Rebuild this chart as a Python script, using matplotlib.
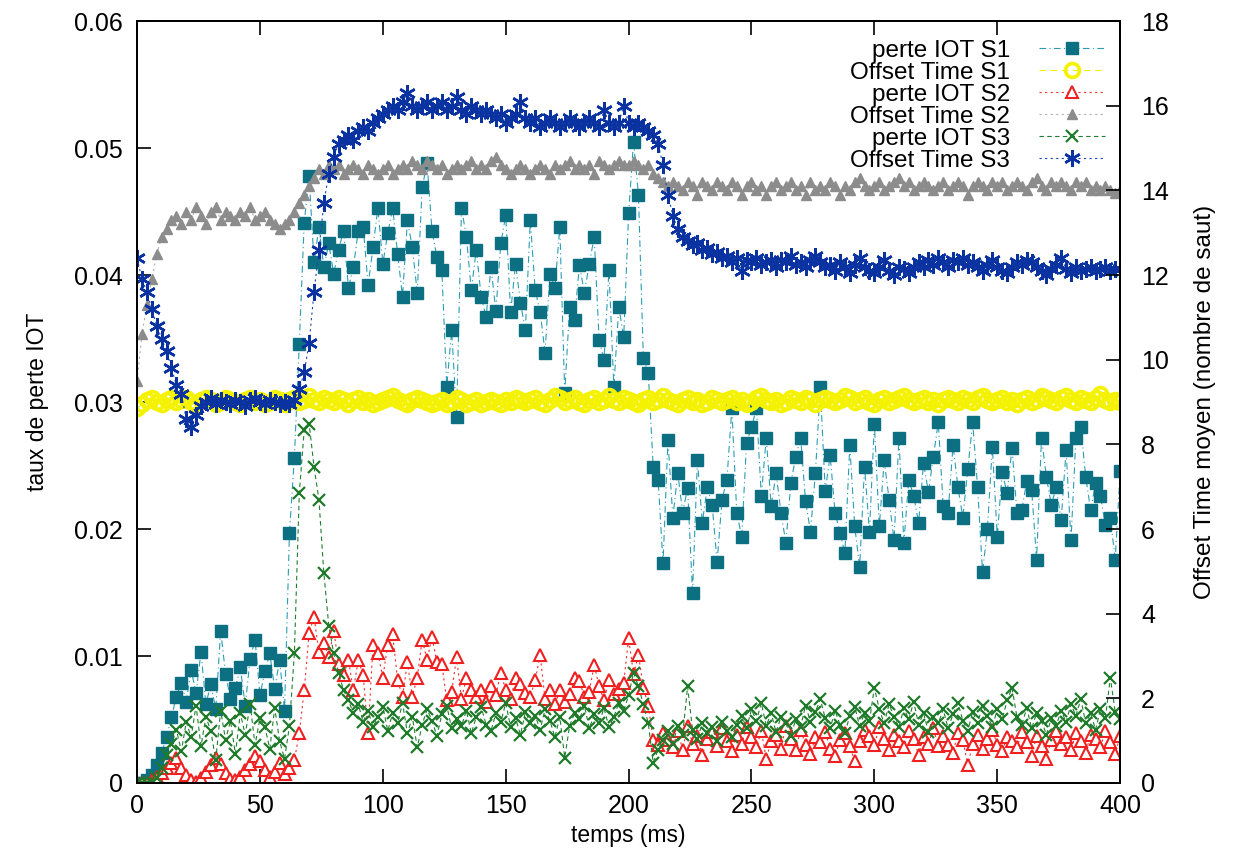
import numpy as np
import matplotlib
matplotlib.use("Agg")
import matplotlib.pyplot as plt
from matplotlib import font_manager

# ============================================================
# data (lus sur la figure, pas de 2 ms)
# ============================================================
temps = np.arange(0, 401, 2)

perte_s1 = [
    0, 0, 0.0002, 0.0006, 0.0014, 0.0024, 0.0036, 0.0052, 0.0068, 0.0079,
    0.0064, 0.0089, 0.0071, 0.0103, 0.0062, 0.0078, 0.0058, 0.0120, 0.0086, 0.0066,
    0.0075, 0.0091, 0.0061, 0.0098, 0.0113, 0.0069, 0.0088, 0.0102, 0.0074, 0.0097,
    0.0057, 0.0197, 0.0256, 0.0346, 0.0441, 0.0478, 0.0410, 0.0438, 0.0406, 0.0425,
    0.0401, 0.0420, 0.0435, 0.0390, 0.0406, 0.0435, 0.0438, 0.0392, 0.0422, 0.0453,
    0.0409, 0.0433, 0.0453, 0.0417, 0.0383, 0.0443, 0.0422, 0.0386, 0.0469, 0.0488,
    0.0435, 0.0414, 0.0404, 0.0312, 0.0357, 0.0288, 0.0453, 0.0430, 0.0388, 0.0420,
    0.0383, 0.0367, 0.0406, 0.0372, 0.0425, 0.0447, 0.0371, 0.0409, 0.0378, 0.0357,
    0.0443, 0.0388, 0.0371, 0.0339, 0.0401, 0.0390, 0.0438, 0.0307, 0.0375, 0.0365,
    0.0408, 0.0386, 0.0409, 0.0430, 0.0349, 0.0333, 0.0404, 0.0312, 0.0375, 0.0351,
    0.0449, 0.0505, 0.0463, 0.0335, 0.0323, 0.0249, 0.0239, 0.0173, 0.0270, 0.0209,
    0.0244, 0.0213, 0.0232, 0.0150, 0.0254, 0.0205, 0.0233, 0.0219, 0.0174, 0.0223,
    0.0239, 0.0295, 0.0213, 0.0194, 0.0268, 0.0280, 0.0295, 0.0226, 0.0272, 0.0218,
    0.0244, 0.0213, 0.0189, 0.0236, 0.0257, 0.0272, 0.0222, 0.0198, 0.0244, 0.0312,
    0.0230, 0.0258, 0.0213, 0.0197, 0.0181, 0.0266, 0.0202, 0.0170, 0.0249, 0.0198,
    0.0283, 0.0202, 0.0254, 0.0223, 0.0191, 0.0272, 0.0189, 0.0239, 0.0226, 0.0205,
    0.0252, 0.0229, 0.0257, 0.0284, 0.0218, 0.0213, 0.0266, 0.0233, 0.0209, 0.0247,
    0.0284, 0.0233, 0.0166, 0.0200, 0.0265, 0.0194, 0.0245, 0.0228, 0.0264, 0.0213,
    0.0215, 0.0238, 0.0231, 0.0176, 0.0272, 0.0241, 0.0219, 0.0233, 0.0207, 0.0262,
    0.0191, 0.0272, 0.0280, 0.0241, 0.0215, 0.0236, 0.0226, 0.0203, 0.0209, 0.0176,
    0.0246,
]

offset_s1 = [
    8.85, 8.95, 9.05, 9.10, 9.00, 8.95, 9.05, 9.10, 9.00, 9.05,
    9.10, 9.00, 8.95, 9.05, 9.10, 9.05, 8.95, 9.00, 9.10, 9.05,
    9.00, 8.95, 9.05, 9.10, 9.00, 9.05, 8.95, 9.00, 9.10, 9.05,
    8.95, 9.05, 9.10, 9.00, 9.05, 9.15, 9.05, 9.00, 9.10, 9.05,
    9.00, 9.10, 9.05, 8.95, 9.05, 9.10, 9.00, 9.05, 8.95, 9.00,
    9.05, 9.10, 9.15, 9.05, 9.00, 8.95, 9.05, 9.10, 9.05, 9.00,
    8.95, 9.00, 9.05, 8.95, 9.00, 9.10, 9.05, 8.95, 9.00, 9.05,
    8.95, 9.00, 9.05, 9.00, 8.95, 9.05, 9.00, 9.10, 9.05, 9.00,
    9.05, 9.10, 9.00, 8.95, 9.05, 9.15, 9.10, 9.00, 9.05, 9.10,
    9.00, 8.95, 9.05, 9.10, 9.00, 9.05, 9.15, 9.05, 9.00, 9.10,
    9.05, 9.00, 8.95, 9.05, 9.10, 9.00, 9.05, 9.15, 9.05, 9.00,
    8.95, 9.05, 9.10, 9.00, 9.05, 8.95, 9.00, 9.10, 9.05, 9.00,
    9.05, 9.10, 9.00, 9.05, 8.95, 9.00, 9.10, 9.15, 9.05, 9.00,
    9.05, 8.95, 9.00, 9.10, 9.05, 9.00, 9.10, 9.05, 8.95, 9.05,
    9.10, 9.05, 9.00, 9.05, 9.15, 9.10, 9.00, 9.05, 9.10, 9.00,
    8.95, 9.05, 9.10, 9.00, 9.05, 9.10, 9.15, 9.05, 9.00, 9.05,
    9.10, 9.00, 9.05, 8.95, 9.05, 9.10, 9.05, 9.00, 9.10, 9.05,
    9.00, 9.10, 9.15, 9.05, 9.00, 9.05, 9.10, 9.00, 9.05, 8.95,
    9.05, 9.10, 9.00, 9.05, 9.15, 9.10, 9.05, 9.00, 9.10, 9.15,
    9.05, 9.00, 9.10, 9.05, 9.00, 9.10, 9.20, 9.05, 9.00, 9.05,
    9.00,
]

perte_s2 = [
    0, 0, 0, 0.0002, 0.0005, 0.0008, 0.0012, 0.0016, 0.0020, 0.0012,
    0.0006, 0.0002, 0.0001, 0.0004, 0.0009, 0.0014, 0.0020, 0.0015, 0.0008, 0.0003,
    0.0002, 0.0005, 0.0010, 0.0015, 0.0021, 0.0017, 0.0010, 0.0005, 0.0009, 0.0016,
    0.0007, 0.0012, 0.0018, 0.0039, 0.0073, 0.0118, 0.0131, 0.0103, 0.0110, 0.0099,
    0.0120, 0.0094, 0.0085, 0.0097, 0.0073, 0.0097, 0.0085, 0.0039, 0.0109, 0.0102,
    0.0083, 0.0109, 0.0117, 0.0081, 0.0068, 0.0095, 0.0068, 0.0083, 0.0113, 0.0097,
    0.0115, 0.0095, 0.0094, 0.0065, 0.0072, 0.0099, 0.0066, 0.0083, 0.0073, 0.0068,
    0.0073, 0.0064, 0.0076, 0.0069, 0.0087, 0.0073, 0.0066, 0.0083, 0.0078, 0.0071,
    0.0068, 0.0081, 0.0101, 0.0066, 0.0073, 0.0062, 0.0073, 0.0064, 0.0070, 0.0083,
    0.0080, 0.0068, 0.0072, 0.0093, 0.0076, 0.0065, 0.0081, 0.0070, 0.0074, 0.0079,
    0.0114, 0.0086, 0.0101, 0.0075, 0.0061, 0.0034, 0.0030, 0.0039, 0.0034, 0.0028,
    0.0041, 0.0026, 0.0045, 0.0031, 0.0037, 0.0022, 0.0035, 0.0040, 0.0029, 0.0043,
    0.0033, 0.0025, 0.0038, 0.0031, 0.0044, 0.0036, 0.0028, 0.0041, 0.0019, 0.0033,
    0.0038, 0.0027, 0.0045, 0.0035, 0.0026, 0.0042, 0.0030, 0.0023, 0.0036, 0.0032,
    0.0040, 0.0027, 0.0021, 0.0034, 0.0039, 0.0029, 0.0017, 0.0033, 0.0042, 0.0037,
    0.0030, 0.0044, 0.0035, 0.0026, 0.0038, 0.0033, 0.0028, 0.0041, 0.0035, 0.0022,
    0.0036, 0.0031, 0.0043, 0.0029, 0.0037, 0.0030, 0.0024, 0.0039, 0.0034, 0.0014,
    0.0031, 0.0038, 0.0027, 0.0035, 0.0042, 0.0030, 0.0025, 0.0036, 0.0033, 0.0028,
    0.0040, 0.0032, 0.0021, 0.0037, 0.0029, 0.0019, 0.0034, 0.0041, 0.0031, 0.0036,
    0.0026, 0.0039, 0.0033, 0.0024, 0.0038, 0.0035, 0.0028, 0.0041, 0.0032, 0.0023,
    0.0037,
]

offset_s2 = [
    9.5, 10.6, 11.3, 11.9, 12.5, 12.9, 13.1, 13.3, 13.4, 13.2,
    13.5, 13.3, 13.6, 13.4, 13.2, 13.5, 13.6, 13.3, 13.5, 13.4,
    13.3, 13.5, 13.4, 13.6, 13.3, 13.4, 13.5, 13.3, 13.2, 13.1,
    13.2, 13.3, 13.5, 13.7, 13.9, 14.1, 14.3, 14.5, 14.4, 14.6,
    14.5, 14.6, 14.4, 14.5, 14.6, 14.5, 14.4, 14.6, 14.5, 14.4,
    14.5, 14.6, 14.4, 14.5, 14.6, 14.5, 14.7, 14.6, 14.5, 14.7,
    14.6, 14.5, 14.6, 14.4, 14.5, 14.6, 14.5, 14.6, 14.7, 14.5,
    14.6, 14.5, 14.7, 14.8, 14.6, 14.5, 14.4, 14.5, 14.6, 14.5,
    14.4, 14.5, 14.6, 14.5, 14.4, 14.6, 14.5, 14.6, 14.7, 14.5,
    14.6, 14.5, 14.6, 14.4, 14.7, 14.6, 14.5, 14.6, 14.7, 14.6,
    14.6, 14.7, 14.6, 14.5, 14.6, 14.4, 14.3, 14.2, 14.1, 14.2,
    14.1, 14.0, 14.2, 14.1, 13.9, 14.2, 14.1, 14.0, 14.2, 14.1,
    14.0, 14.2, 14.1, 13.9, 14.1, 14.2, 14.0, 14.1, 13.9, 14.1,
    14.2, 14.0, 14.1, 14.2, 14.0, 14.1, 13.9, 14.2, 14.0, 14.1,
    14.0, 14.2, 14.1, 13.9, 14.1, 14.0, 14.2, 14.3, 14.1, 14.0,
    14.1, 14.2, 14.0, 14.1, 14.2, 14.3, 14.1, 14.2, 14.0, 14.1,
    14.2, 14.1, 14.0, 14.1, 14.2, 14.0, 14.1, 14.2, 14.1, 13.9,
    14.1, 14.2, 14.1, 14.0, 14.2, 14.1, 14.2, 14.0, 14.1, 14.2,
    14.1, 14.0, 14.2, 14.3, 14.1, 14.0, 14.2, 14.1, 14.2, 14.1,
    14.0, 14.2, 14.1, 14.2, 14.0, 14.1, 14.0, 14.1, 14.0, 13.95,
    14.0,
]

perte_s3 = [
    0, 0, 0, 0.0001, 0.0004, 0.0012, 0.0022, 0.0031, 0.0042, 0.0025,
    0.0048, 0.0036, 0.0061, 0.0029, 0.0052, 0.0041, 0.0018, 0.0057, 0.0034, 0.0049,
    0.0023, 0.0055, 0.0038, 0.0062, 0.0030, 0.0051, 0.0044, 0.0027, 0.0059, 0.0033,
    0.0019, 0.0045, 0.0102, 0.0228, 0.0278, 0.0283, 0.0249, 0.0223, 0.0165, 0.0124,
    0.0102, 0.0087, 0.0073, 0.0065, 0.0055, 0.0062, 0.0048, 0.0057, 0.0044, 0.0052,
    0.0060, 0.0041, 0.0055, 0.0047, 0.0063, 0.0039, 0.0052, 0.0028, 0.0046, 0.0058,
    0.0049, 0.0037, 0.0054, 0.0061, 0.0043, 0.0050, 0.0045, 0.0057, 0.0039, 0.0052,
    0.0060, 0.0046, 0.0041, 0.0055, 0.0048, 0.0063, 0.0044, 0.0051, 0.0038, 0.0056,
    0.0047, 0.0053, 0.0042, 0.0058, 0.0049, 0.0036, 0.0052, 0.0020, 0.0045, 0.0055,
    0.0050, 0.0061, 0.0043, 0.0054, 0.0047, 0.0059, 0.0044, 0.0052, 0.0063, 0.0057,
    0.0069, 0.0087, 0.0076, 0.0062, 0.0047, 0.0016, 0.0026, 0.0034, 0.0041, 0.0031,
    0.0045, 0.0038, 0.0076, 0.0042, 0.0035, 0.0047, 0.0039, 0.0044, 0.0033, 0.0048,
    0.0041, 0.0036, 0.0046, 0.0053, 0.0043, 0.0058, 0.0049, 0.0063, 0.0045, 0.0055,
    0.0040, 0.0052, 0.0047, 0.0037, 0.0050, 0.0044, 0.0061, 0.0048, 0.0056, 0.0066,
    0.0051, 0.0043, 0.0057, 0.0046, 0.0039, 0.0053, 0.0060, 0.0045, 0.0055, 0.0049,
    0.0075, 0.0058, 0.0047, 0.0062, 0.0052, 0.0044, 0.0059, 0.0050, 0.0064, 0.0046,
    0.0055, 0.0040, 0.0052, 0.0047, 0.0058, 0.0043, 0.0054, 0.0063, 0.0049, 0.0041,
    0.0056, 0.0047, 0.0061, 0.0053, 0.0044, 0.0058, 0.0050, 0.0065, 0.0075, 0.0052,
    0.0046, 0.0059, 0.0043, 0.0055, 0.0049, 0.0038, 0.0051, 0.0045, 0.0057, 0.0048,
    0.0062, 0.0053, 0.0066, 0.0047, 0.0055, 0.0042, 0.0058, 0.0051, 0.0083, 0.0056,
    0.0050,
]

offset_s3 = [
    12.4, 11.9, 11.6, 11.2, 10.8, 10.5, 10.2, 9.8, 9.4, 9.2,
    8.6, 8.4, 8.7, 8.9, 9.0, 9.1, 8.95, 9.05, 9.0, 8.95,
    9.05, 9.0, 8.9, 9.05, 9.1, 9.0, 8.95, 9.05, 9.0, 8.95,
    9.0, 8.95, 9.05, 9.3, 9.7, 10.4, 11.6, 12.6, 13.7, 14.4,
    14.8, 15.1, 15.2, 15.3, 15.2, 15.4, 15.5, 15.4, 15.6, 15.7,
    15.8, 15.9, 16.0, 15.9, 16.1, 16.3, 16.0, 15.9, 16.0, 16.1,
    15.9, 16.0, 16.1, 15.9, 16.0, 16.2, 15.9, 15.8, 16.0, 15.9,
    15.8, 15.9, 15.8, 15.7, 15.8, 15.6, 15.7, 15.8, 16.1, 15.7,
    15.6, 15.7, 15.5, 15.6, 15.7, 15.6, 15.5, 15.6, 15.7, 15.6,
    15.5, 15.6, 15.7, 15.6, 15.5, 15.9, 15.6, 15.5, 15.6, 16.0,
    15.6, 15.5, 15.6, 15.5, 15.4, 15.3, 15.1, 14.6, 13.9, 13.4,
    13.1, 12.9, 12.8, 12.7, 12.75, 12.6, 12.65, 12.5, 12.55, 12.4,
    12.45, 12.3, 12.4, 12.1, 12.35, 12.3, 12.4, 12.25, 12.3, 12.35,
    12.2, 12.35, 12.3, 12.45, 12.25, 12.3, 12.2, 12.35, 12.45, 12.3,
    12.2, 12.25, 12.1, 12.3, 12.2, 12.05, 12.25, 12.4, 12.2, 12.1,
    12.05, 12.2, 12.35, 12.1, 12.0, 12.2, 12.15, 12.05, 12.2, 12.3,
    12.2, 12.35, 12.25, 12.4, 12.3, 12.2, 12.35, 12.3, 12.4, 12.25,
    12.3, 12.2, 12.1, 12.25, 12.35, 12.2, 12.1, 12.05, 12.2, 12.3,
    12.25, 12.35, 12.3, 12.2, 12.1, 12.0, 12.15, 12.25, 12.4, 12.15,
    12.05, 12.2, 12.1, 12.15, 12.2, 12.1, 12.15, 12.2, 12.1, 12.15,
    12.15,
]

labels = [
    "perte IOT S1",
    "Offset Time S1",
    "perte IOT S2",
    "Offset Time S2",
    "perte IOT S3",
    "Offset Time S3",
]

# ============================================================
# figure
# ============================================================
plt.rcParams['font.family'] = ['Liberation Sans', 'DejaVu Sans']

installed = {f.name for f in font_manager.fontManager.ttflist}
if 'Liberation Sans Narrow' in installed:
    label_family = ['Liberation Sans Narrow', 'DejaVu Sans']
    label_size = 19.5
else:
    label_family = ['Liberation Sans', 'DejaVu Sans']
    label_size = 16.5

fig = plt.figure(figsize=(12.35, 8.56), dpi=100)
ax = fig.add_axes([0.111, 0.0853, 0.796, 0.890])
ax2 = ax.twinx()

ax.set_xlim(0, 400)
ax.set_ylim(0, 0.06)
ax2.set_ylim(0, 18)

# toutes les courbes sur ax pour garder l'ordre de tracé de gnuplot,
# les offsets utilisent l'échelle de droite via ax2.transData
right = ax2.transData

ax.plot(temps, perte_s1, color="#2a9db3", linestyle=(0, (6, 3, 1, 3)), linewidth=0.8,
        marker="s", markersize=8, markerfacecolor="#0c6f82", markeredgecolor="#0c6f82",
        label=labels[0])

ax.plot(temps, offset_s1, color="#f2f000", linestyle=(0, (6, 4)), linewidth=0.8,
        marker="o", markersize=10, markerfacecolor="none", markeredgecolor="#f5f200",
        markeredgewidth=2.6, transform=right, label=labels[1])

ax.plot(temps, perte_s2, color="#f03030", linestyle=(0, (2, 3)), linewidth=0.8,
        marker="^", markersize=8, markerfacecolor="white", markeredgecolor="#f02020",
        markeredgewidth=1.5, label=labels[2])

ax.plot(temps, offset_s2, color="#b0b0b0", linestyle=(0, (2, 3)), linewidth=0.8,
        marker="^", markersize=7.5, markerfacecolor="#8c8c8c", markeredgecolor="#8c8c8c",
        transform=right, label=labels[3])

ax.plot(temps, perte_s3, color="#1f7f2f", linestyle=(0, (4, 3)), linewidth=0.8,
        marker="x", markersize=8.5, markeredgecolor="#1f7a2a", markeredgewidth=1.6,
        label=labels[4])

ax.plot(temps, offset_s3, color="#1a45b0", linestyle=(0, (2, 3)), linewidth=0.8,
        marker=(6, 2, 0), markersize=12, markeredgecolor="#0a32a0", markeredgewidth=1.8,
        transform=right, label=labels[5])

ax.set_xlim(0, 400)
ax.set_ylim(0, 0.06)

# ============================================================
# axes / ticks
# ============================================================
ax.set_xticks(range(0, 401, 50))
ax.set_yticks([0, 0.01, 0.02, 0.03, 0.04, 0.05, 0.06])
ax.set_yticklabels(["0", "0.01", "0.02", "0.03", "0.04", "0.05", "0.06"])
ax2.set_yticks(range(0, 19, 2))

ax.tick_params(axis="x", direction="in", length=10, width=1.2, top=True,
               labelsize=18, pad=8)
ax.tick_params(axis="y", direction="in", length=10, width=1.2, right=False,
               labelsize=18, pad=10)
ax2.tick_params(axis="y", direction="in", length=10, width=1.2,
                labelsize=18, pad=15)

for a in (ax, ax2):
    for s in a.spines.values():
        s.set_linewidth(1.3)

ax.set_xlabel("temps (ms)", labelpad=4, family=label_family, fontsize=label_size)
ax.set_ylabel("taux de perte IOT", labelpad=18, family=label_family,
              fontsize=label_size)
ax2.set_ylabel("Offset Time moyen (nombre de saut)", labelpad=18,
               family=label_family, fontsize=label_size + 1)

# ============================================================
# legend (texte à gauche, symbole à droite, comme gnuplot)
# ============================================================
leg = ax.legend(loc="upper right", bbox_to_anchor=(0.999, 0.995), frameon=False,
                markerfirst=False, numpoints=1, handlelength=2.7,
                fontsize=17.5, labelspacing=0.0, handletextpad=1.2,
                borderaxespad=0.2)

fig.savefig("out.png", dpi=100)
